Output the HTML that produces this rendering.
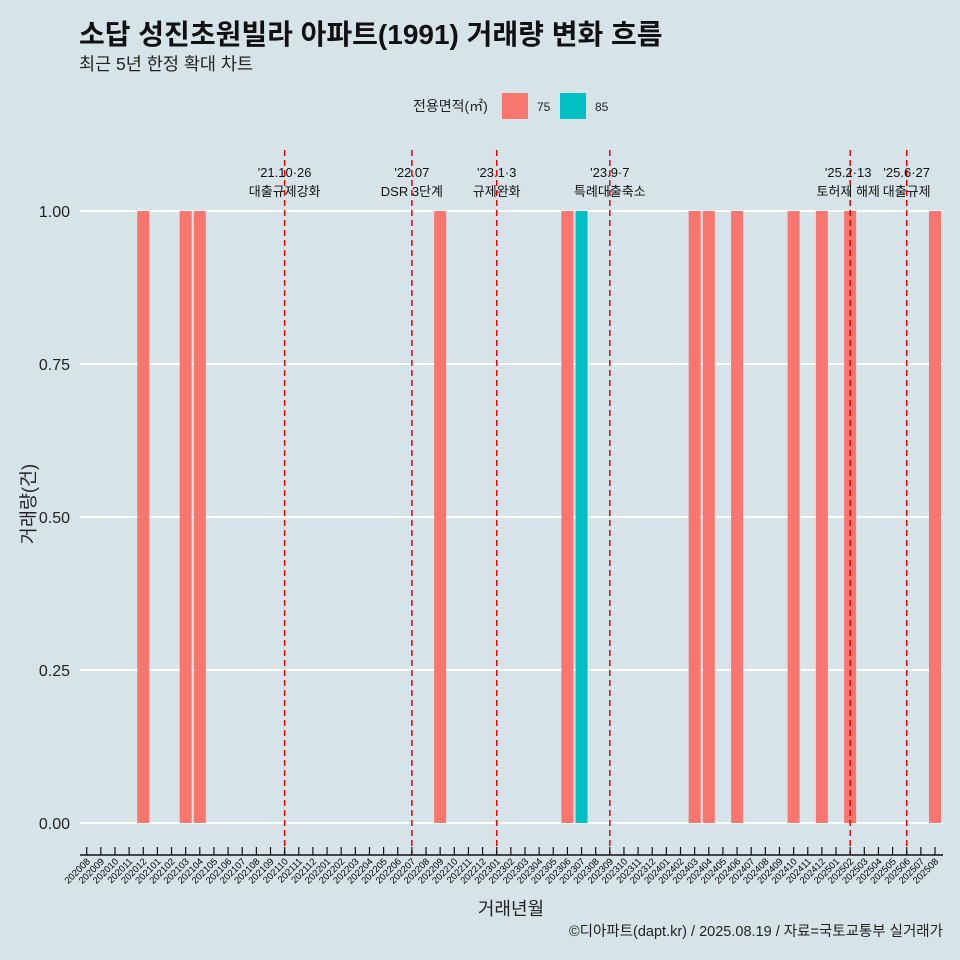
<!DOCTYPE html>
<html><head><meta charset="utf-8">
<style>
html,body{margin:0;padding:0;background:#d6e4ea;}
svg{display:block;font-family:"Liberation Sans","Noto Sans CJK KR",sans-serif;}
</style></head>
<body>
<svg id="chart" width="960" height="960" xmlns="http://www.w3.org/2000/svg">
<rect width="960" height="960" fill="#d6e4ea"/>
<text x="79" y="44" font-size="28" font-weight="bold" fill="#111">소답 성진초원빌라 아파트(1991) 거래량 변화 흐름</text>
<text x="79" y="70" font-size="17.5" fill="#222">최근 5년 한정 확대 차트</text>
<g>
<text x="413" y="111" font-size="14" fill="#222">전용면적(㎡)</text>
<rect x="502" y="93" width="26" height="26" fill="#f8766d"/>
<text x="537" y="111" font-size="12" fill="#222">75</text>
<rect x="560" y="93" width="26" height="26" fill="#00bfc4"/>
<text x="595" y="111" font-size="12" fill="#222">85</text>
</g>
<g id="grid"></g><g id="bars"></g><g id="events"></g><g id="axes"></g>
<text transform="translate(35,504) rotate(-90)" text-anchor="middle" font-size="18.5" fill="#222">거래량(건)</text>
<text x="511" y="915" text-anchor="middle" font-size="18" fill="#222">거래년월</text>
<text x="943" y="936" text-anchor="end" font-size="14.5" fill="#222">©디아파트(dapt.kr) / 2025.08.19 / 자료=국토교통부 실거래가</text>
</svg>
<script>
const yTicks = [0, 0.25, 0.5, 0.75, 1.0];
const yTickLabels = ["0.00", "0.25", "0.50", "0.75", "1.00"];
const barMonths = ["202012","202103","202104","202209","202306","202307","202403","202404","202406","202410","202412","202502","202508"];
const barAreas = ["75","75","75","75","75","85","75","75","75","75","75","75","75"];
const barValues = [1,1,1,1,1,1,1,1,1,1,1,1,1];
const eventMonths = ["202110","202207","202301","202309","202502","202506"];
const eventDates = ["'21.10·26","'22.07","'23.1·3","'23.9·7","'25.2·13","'25.6·27"];
const eventLabels = ["대출규제강화","DSR 3단계","규제완화","특례대출축소","토허제 해제","대출규제"];

const categories = [];
for (let y = 2020; y <= 2025; y++) for (let m = 1; m <= 12; m++) {
  const s = y + String(m).padStart(2, "0");
  if (s >= "202008" && s <= "202508") categories.push(s);
}
const NS = "http://www.w3.org/2000/svg";
const x0 = 86.7, x1 = 935, yZero = 823, yOne = 211;
const step = (x1 - x0) / (categories.length - 1);
const xScale = c => x0 + categories.indexOf(c) * step;
const yScale = v => yZero - v * (yZero - yOne);
const colors = {"75": "#f8766d", "85": "#00bfc4"};
function mk(tag, attrs, parent, text) {
  const e = document.createElementNS(NS, tag);
  for (const k in attrs) e.setAttribute(k, attrs[k]);
  if (text !== undefined) e.textContent = text;
  parent.appendChild(e);
  return e;
}
const grid = document.getElementById("grid"), bars = document.getElementById("bars"),
      events = document.getElementById("events"), axes = document.getElementById("axes");
yTicks.forEach((v, i) => {
  const l = mk("line", {x1: 80, x2: 943, y1: yScale(v), y2: yScale(v), stroke: "#fff", "stroke-width": 2}, grid);
  
  
  const t = mk("text", {x: 70, y: yScale(v) + 6, "text-anchor": "end", "font-size": 16, fill: "#222"}, axes, yTickLabels[i]);
  
  
});
barMonths.forEach((c, i) => {
  const cx = xScale(c), w = 12;
  const r = mk("rect", {x: cx - w / 2, y: yScale(barValues[i]), width: w, height: yZero - yScale(barValues[i]), fill: colors[barAreas[i]]}, bars);
  
  
});
eventMonths.forEach((c, i) => {
  const cx = xScale(c);
  const l = mk("line", {x1: cx, x2: cx, y1: 150, y2: 855, stroke: "#ee0000", "stroke-width": 1.5, "stroke-dasharray": "6,4"}, events);
  
  
  const near = (i === 4) ? -2 : 0;
  const t1 = mk("text", {x: cx + near, y: 177, "text-anchor": "middle", "font-size": 13, fill: "#111"}, events, eventDates[i]);
  
  
  const t2 = mk("text", {x: cx + near, y: 196, "text-anchor": "middle", "font-size": 13, fill: "#111"}, events, eventLabels[i]);
  
  
});
const ax = mk("line", {x1: 80, x2: 943, y1: 855, y2: 855, stroke: "#111", "stroke-width": 1.5}, axes);


categories.forEach(c => {
  const cx = xScale(c);
  const tk = mk("line", {x1: cx, x2: cx, y1: 847, y2: 855, stroke: "#111", "stroke-width": 1.2}, axes);
  
  
  const t = mk("text", {x: cx + 4, y: 862, "text-anchor": "end", "font-size": 9.5, fill: "#000", transform: `rotate(-45 ${cx + 4} 862)`}, axes, c);
  
  
});
</script>
</body></html>
